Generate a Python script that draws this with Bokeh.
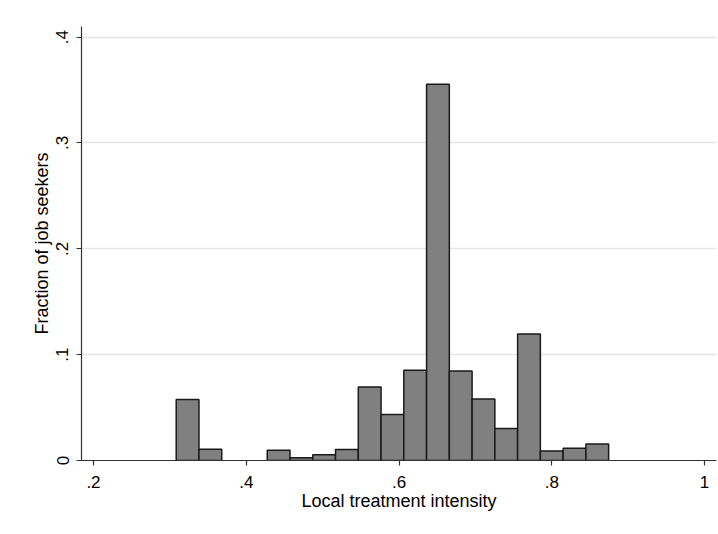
from bokeh.plotting import figure
from bokeh.models import Range1d, FixedTicker
from bokeh.embed import file_html
from bokeh.resources import INLINE

# ---- data ----
bin_start = 0.3083
bin_width = 0.0298
fractions = [0.0576, 0.0107, 0.0, 0.0, 0.0097, 0.0025, 0.0055, 0.0104,
             0.0694, 0.0434, 0.0852, 0.3554, 0.0845, 0.0582, 0.0302,
             0.1195, 0.0090, 0.0116, 0.0157]
x_ticks = [0.2, 0.4, 0.6, 0.8, 1.0]
x_tick_labels = [".2", ".4", ".6", ".8", "1"]
y_ticks = [0.0, 0.1, 0.2, 0.3, 0.4]
y_tick_labels = ["0", ".1", ".2", ".3", ".4"]
x_title = "Local treatment intensity"
y_title = "Fraction of job seekers"

left = [bin_start + i * bin_width for i in range(len(fractions)) if fractions[i] > 0]
right = [l + bin_width for l in left]
top = [f for f in fractions if f > 0]
bottom = [0.0] * len(top)

FONT = "Liberation Sans"

p = figure(width=718, height=534, output_backend="svg", toolbar_location=None,
           x_range=Range1d(0.1843, 1.0157), y_range=Range1d(0.0, 0.41),
           min_border_left=81, min_border_right=2, min_border_top=26,
           min_border_bottom=74)
p.outline_line_color = None
p.background_fill_color = "white"
p.border_fill_color = "white"

p.quad(left=left, right=right, top=top, bottom=bottom,
       fill_color="#808080", line_color="#1a1a1a", line_width=1.5)

# axes
for ax in (p.xaxis[0], p.yaxis[0]):
    ax.axis_line_color = "#333333"
    ax.axis_line_width = 1.2
    ax.major_tick_line_color = "#333333"
    ax.major_tick_line_width = 1.2
    ax.major_tick_out = 5
    ax.major_tick_in = 0
    ax.minor_tick_line_color = None
    ax.major_label_text_font = FONT
    ax.major_label_text_font_size = "17px"
    ax.major_label_text_color = "black"
    ax.axis_label_text_font = FONT
    ax.axis_label_text_font_size = "18px"
    ax.axis_label_text_font_style = "normal"
    ax.axis_label_text_color = "black"

p.xaxis.ticker = FixedTicker(ticks=x_ticks)
p.xaxis.major_label_overrides = dict(zip(x_ticks, x_tick_labels))
p.yaxis.ticker = FixedTicker(ticks=y_ticks)
p.yaxis.major_label_overrides = dict(zip(y_ticks, y_tick_labels))
p.yaxis.major_label_orientation = "vertical"

p.xaxis.axis_label = x_title
p.yaxis.axis_label = y_title
p.xaxis.major_label_standoff = 10
p.xaxis.axis_label_standoff = 0
p.yaxis.major_label_standoff = 8
p.yaxis.axis_label_standoff = 2

p.xgrid.grid_line_color = None
p.ygrid.grid_line_color = "#e6e6e6"
p.ygrid.grid_line_width = 1.5
p.ygrid.ticker = FixedTicker(ticks=y_ticks)

open("out.html", "w").write(file_html(p, INLINE))
